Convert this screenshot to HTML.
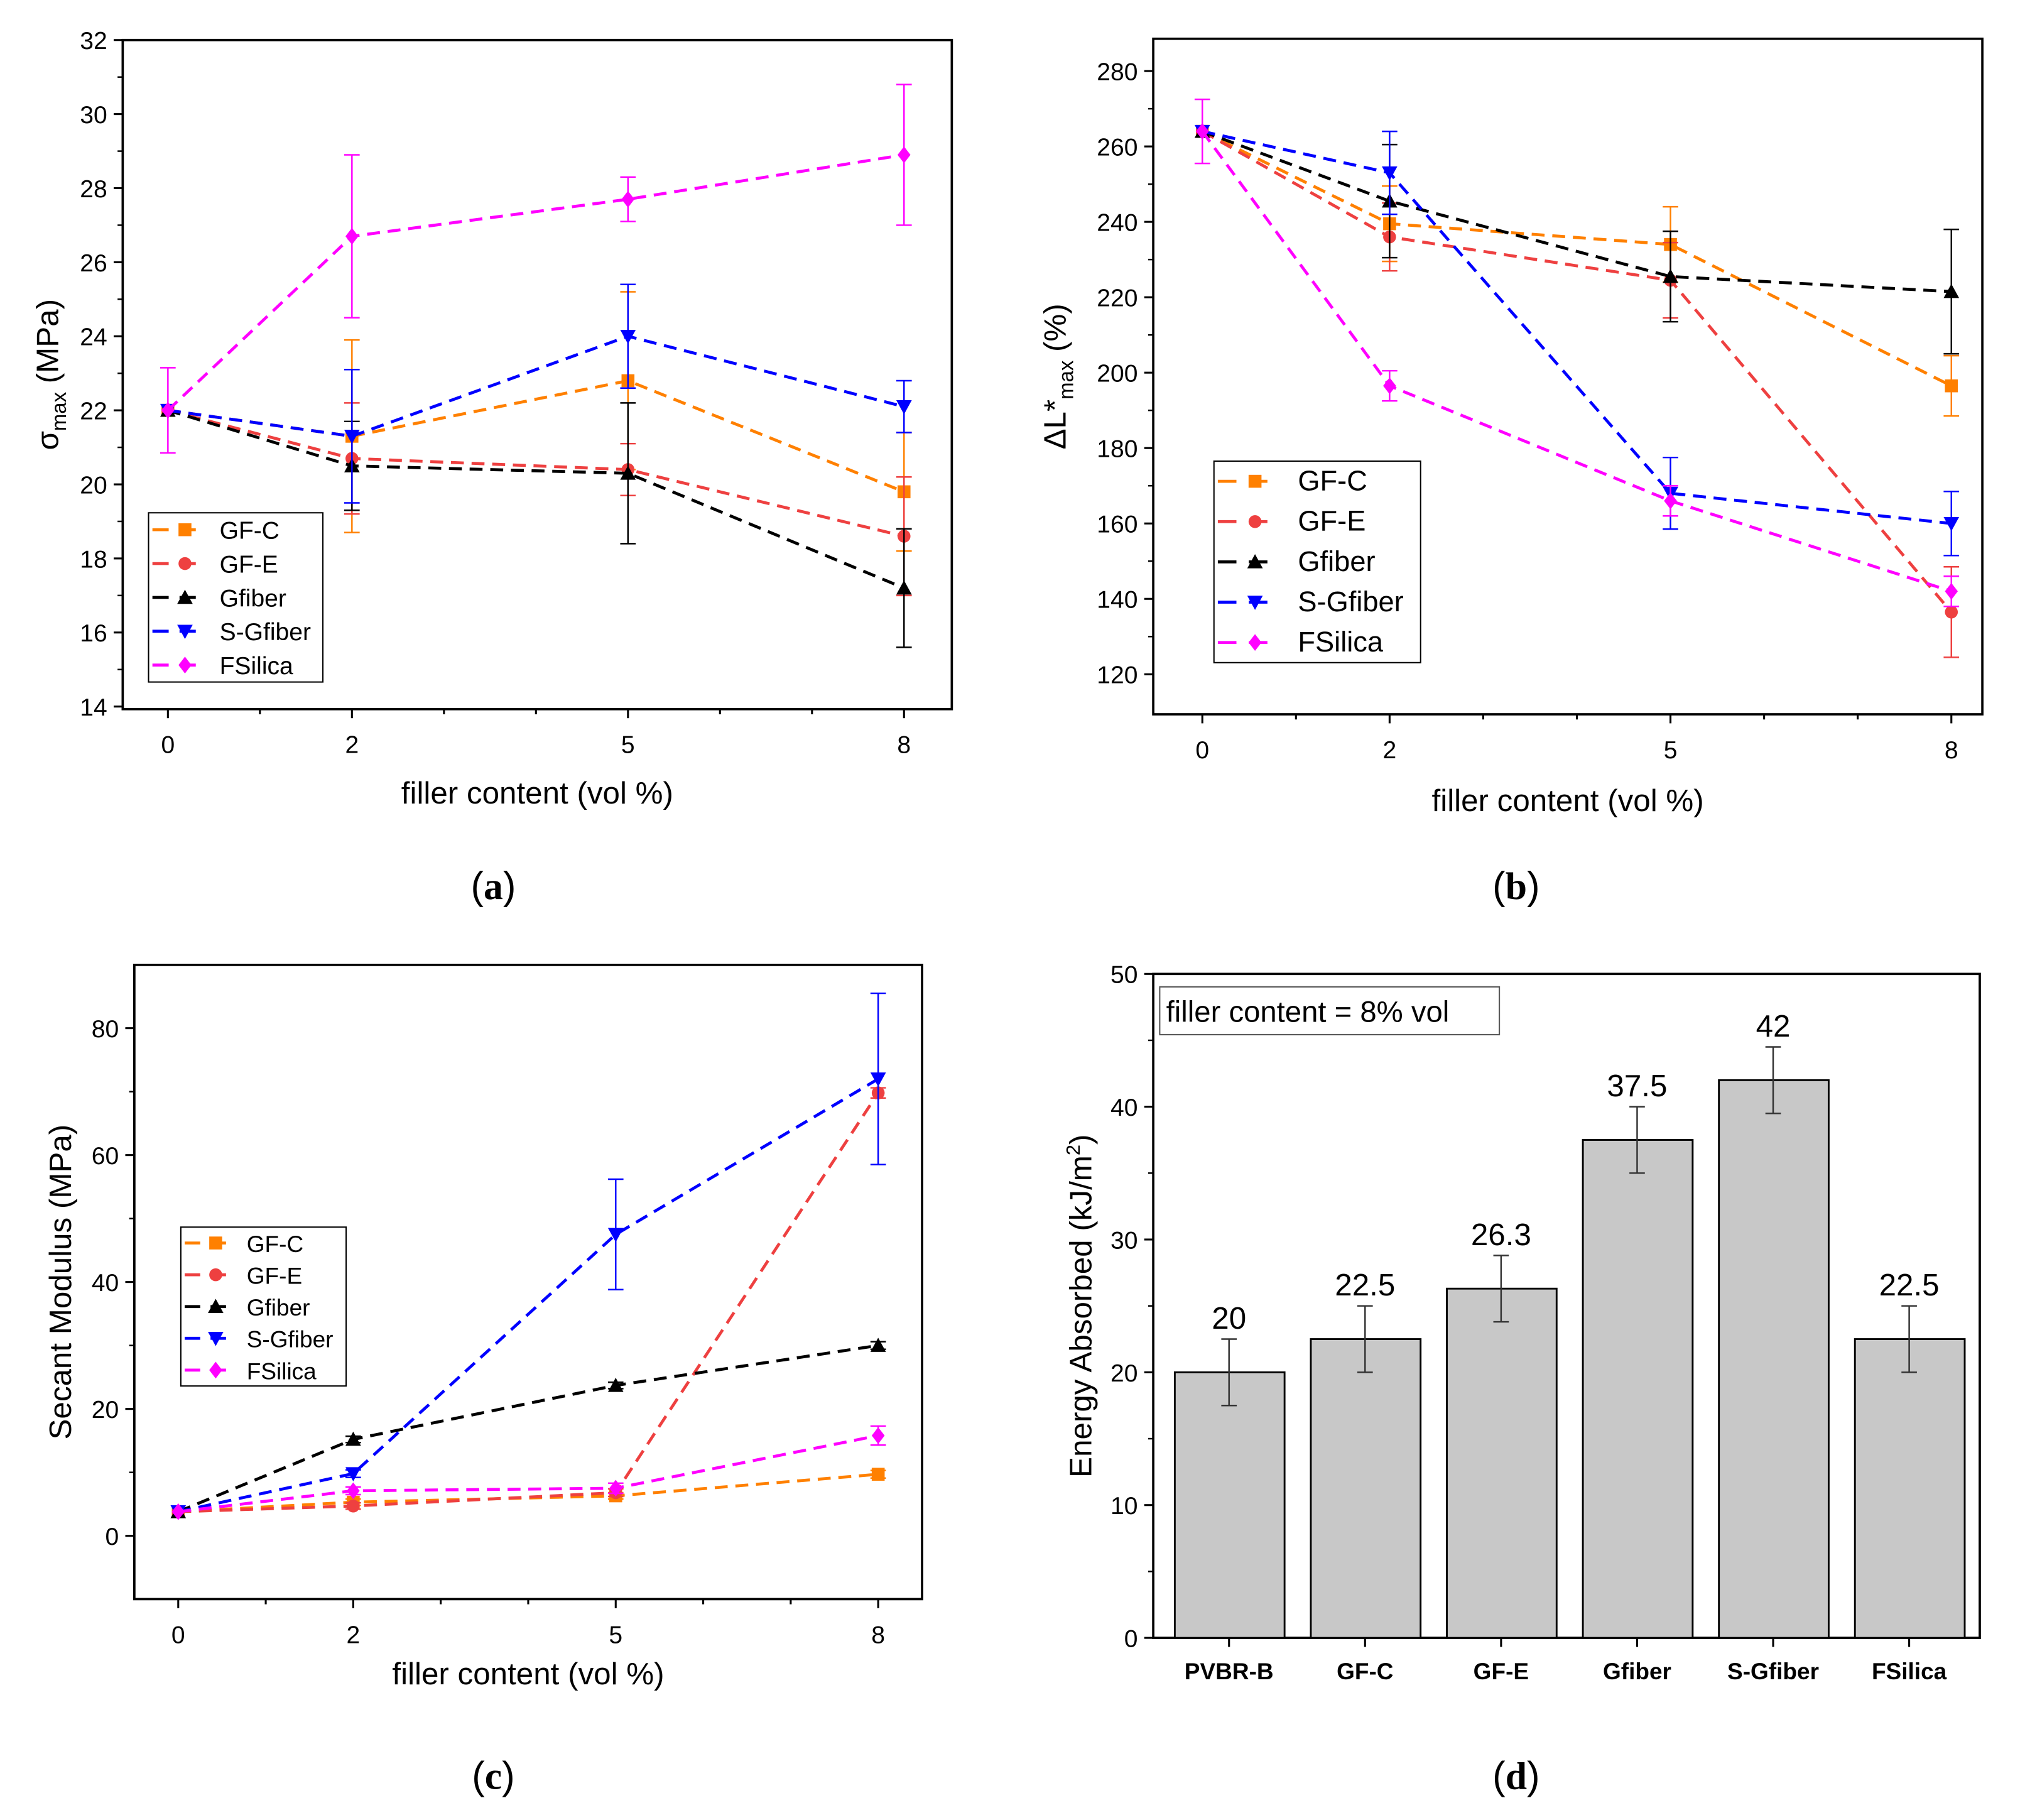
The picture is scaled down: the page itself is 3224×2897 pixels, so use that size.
<!DOCTYPE html>
<html><head><meta charset="utf-8"><style>html,body{margin:0;padding:0;background:#fff}svg{display:block}text{font-family:"Liberation Sans",sans-serif}</style></head>
<body>
<svg id="fig" width="3224" height="2897" viewBox="0 0 1568 1409" xmlns="http://www.w3.org/2000/svg"></svg>
<script>
const seriesNames = ["GF-C","GF-E","Gfiber","S-Gfiber","FSilica"];
const seriesColors = ["#ff8000","#ee4040","#000000","#0000ff","#ff00ff"];
const seriesMarkers = ["square","circle","up","down","diamond"];
const xCats = [0,2,5,8];
// panel a
const aGFC = [22,21.3,22.8,19.8];  const aGFCerr = [0,2.6,2.4,1.6];
const aGFE = [22,20.7,20.4,18.6];  const aGFEerr = [0,1.5,0.7,1.6];
const aGfib = [22,20.5,20.3,17.2]; const aGfiberr = [0,1.2,1.9,1.6];
const aSG = [22,21.3,24,22.1];     const aSGerr = [0,1.8,1.4,0.7];
const aFS = [22,26.7,27.7,28.9];   const aFSerr = [1.15,2.2,0.6,1.9];
const aTicks = [14,16,18,20,22,24,26,28,30,32];
// panel b
const bGFC = [264,239.5,234,196.5]; const bGFCerr = [0,10,10,8];
const bGFE = [264,236,224.5,136.5]; const bGFEerr = [0,9,10,12];
const bGfib = [264,245.5,225.5,221.5]; const bGfiberr = [0,15,12,16.5];
const bSG = [264,253,168,160];     const bSGerr = [0,11,9.5,8.5];
const bFS = [264,196.5,166,142];   const bFSerr = [8.5,4,4,4];
const bTicks = [120,140,160,180,200,220,240,260,280];
// panel c
const cGFC = [3.8,5.3,6.3,9.7];    const cGFCerr = [0,0.5,0.5,0.6];
const cGFE = [3.8,4.7,6.8,69.8];   const cGFEerr = [0,0.5,0.6,0.8];
const cGfib = [3.8,15.2,23.7,30];  const cGfiberr = [0,0.5,0.5,0.6];
const cSG = [3.8,9.8,47.5,72];     const cSGerr = [0,0.6,8.7,13.5];
const cFS = [3.8,7.1,7.5,15.8];    const cFSerr = [0,0.6,0.8,1.5];
const cTicks = [0,20,40,60,80];
// panel d
const dCats = ["PVBR-B","GF-C","GF-E","Gfiber","S-Gfiber","FSilica"];
const dVals = [20,22.5,26.3,37.5,42,22.5];
const dErr = [2.5,2.5,2.5,2.5,2.5,2.5];
const dLabels = ["20","22.5","26.3","37.5","42","22.5"];
const dTicks = [0,10,20,30,40,50];

const NS="http://www.w3.org/2000/svg";
const svg=document.getElementById('fig');
function mk(tag,attrs,parent){const e=document.createElementNS(NS,tag);for(const k in attrs)e.setAttribute(k,attrs[k]);(parent||svg).appendChild(e);return e;}
function txt(s,attrs,parent){const e=mk('text',attrs,parent);e.textContent=s;return e;}

function marker(g,type,x,y,c,s){
  let e;
  if(type==='square') e=mk('rect',{x:x-s,y:y-s,width:2*s,height:2*s,fill:c},g);
  else if(type==='circle') e=mk('circle',{cx:x,cy:y,r:s,fill:c},g);
  else if(type==='up') e=mk('polygon',{points:`${x},${y-s*1.2} ${x-s*1.2},${y+s} ${x+s*1.2},${y+s}`,fill:c},g);
  else if(type==='down') e=mk('polygon',{points:`${x},${y+s*1.2} ${x-s*1.2},${y-s} ${x+s*1.2},${y-s}`,fill:c},g);
  else e=mk('polygon',{points:`${x},${y-s*1.3} ${x+s},${y} ${x},${y+s*1.3} ${x-s},${y}`,fill:c},g);
  return e;
}

function linePanel(P){
  const g=mk('g',{});
  
  
  const sx=v=>P.x0+(v-P.xmin)*(P.x1-P.x0)/(P.xmax-P.xmin);
  const sy=v=>P.yb+(v-P.ylo)*(P.yt-P.yb)/(P.yhi-P.ylo);
  const fr=mk('rect',{x:P.L,y:P.T,width:P.R-P.L,height:P.B-P.T,fill:'none',stroke:'#000','stroke-width':1.8},g);
  
  
  P.ticks.forEach((t,i)=>{
    const y=sy(t);
    mk('line',{x1:P.L-7,x2:P.L,y1:y,y2:y,stroke:'#000','stroke-width':1.5},g);
    if(i<P.ticks.length-1){const ym=sy(t+(P.ticks[1]-P.ticks[0])/2);mk('line',{x1:P.L-4,x2:P.L,y1:ym,y2:ym,stroke:'#000','stroke-width':1.2},g);}
    const tl=txt(String(t),{x:P.L-12,y:y+7,'font-size':19,'text-anchor':'end'},g);
    
    
  });
  for(let v=0;v<=8;v++){
    const x=sx(v);const major=xCats.includes(v);
    mk('line',{x1:x,x2:x,y1:P.B,y2:P.B+(major?7:4),stroke:'#000','stroke-width':1.5},g);
    if(major){const tl=txt(String(v),{x:x,y:P.B+34,'font-size':19,'text-anchor':'middle'},g);
      
      }
  }
  const xt=txt('filler content (vol %)',{x:(P.L+P.R)/2,y:P.xtY,'font-size':24,'text-anchor':'middle'},g);
  
  
  const yt=mk('text',{transform:`translate(${P.ytX},${(P.T+P.B)/2}) rotate(-90)`,'font-size':24,'text-anchor':'middle'},g);
  yt.innerHTML=P.ytitle;
  
  
  P.series.forEach((vals,si)=>{
    const c=seriesColors[si];const errs=P.errs[si];
    const sg=mk('g',{},g);
    
    
    vals.forEach((v,i)=>{ if(errs[i]>0){const x=sx(xCats[i]);
      mk('line',{x1:x,x2:x,y1:sy(v-errs[i]),y2:sy(v+errs[i]),stroke:c,'stroke-width':1.2},sg);
      mk('line',{x1:x-6,x2:x+6,y1:sy(v-errs[i]),y2:sy(v-errs[i]),stroke:c,'stroke-width':1.2},sg);
      mk('line',{x1:x-6,x2:x+6,y1:sy(v+errs[i]),y2:sy(v+errs[i]),stroke:c,'stroke-width':1.2},sg);}});
    const pts=vals.map((v,i)=>sx(xCats[i])+','+sy(v)).join(' ');
    const pl=mk('polyline',{points:pts,fill:'none',stroke:c,'stroke-width':2.3,'stroke-dasharray':'10,6'},sg);
    
    
    vals.forEach((v,i)=>{const m=marker(sg,seriesMarkers[si],sx(xCats[i]),sy(v),c,5);
      
      });
  });
  const lg=mk('g',{},g);
  
  
  mk('rect',{x:P.lg[0],y:P.lg[1],width:P.lg[2],height:P.lg[3],fill:'#fff',stroke:'#000','stroke-width':1},lg);
  const step=P.lg[3]/5;
  seriesNames.forEach((n,i)=>{
    const y=P.lg[1]+step*(i+0.5);const x=P.lg[0]+3;const w=P.lgLine;
    const le=mk('g',{},lg);
    
    
    mk('line',{x1:x,x2:x+w,y1:y,y2:y,stroke:seriesColors[i],'stroke-width':2.3,'stroke-dasharray':w*0.3+','+w*0.2},le);
    marker(le,seriesMarkers[i],x+w*0.6,y,seriesColors[i],5);
    txt(n,{x:x+w+P.lgGap,y:y+7,'font-size':P.lgFont},le);
  });
}

linePanel({name:'panel-a-strength',L:95,R:737,T:31,B:549,x0:130,x1:700,xmin:0,xmax:8,ylo:14,yhi:32,yb:547,yt:31,
  ticks:aTicks,series:[aGFC,aGFE,aGfib,aSG,aFS],errs:[aGFCerr,aGFEerr,aGfiberr,aSGerr,aFSerr],
  ytitle:'σ<tspan font-size="16" dy="6">max</tspan><tspan dy="-6"> (MPa)</tspan>',ytX:45,xtY:622,lg:[115,397,135,131],lgLine:42,lgGap:10,lgFont:19});
linePanel({name:'panel-b-elongation',L:893,R:1535,T:30,B:553,x0:931,x1:1511,xmin:0,xmax:8,ylo:120,yhi:280,yb:522,yt:55,
  ticks:bTicks,series:[bGFC,bGFE,bGfib,bSG,bFS],errs:[bGFCerr,bGFEerr,bGfiberr,bSGerr,bFSerr],
  ytitle:'ΔL*<tspan font-size="16" dy="6">max</tspan><tspan dy="-6"> (%)</tspan>',ytX:825,xtY:628,lg:[940,357,160,156],lgLine:48,lgGap:14,lgFont:22});
linePanel({name:'panel-c-secant-modulus',L:104,R:714,T:747,B:1238,x0:138,x1:680,xmin:0,xmax:8,ylo:0,yhi:80,yb:1189,yt:796,
  ticks:cTicks,series:[cGFC,cGFE,cGfib,cSG,cFS],errs:[cGFCerr,cGFEerr,cGfiberr,cSGerr,cFSerr],
  ytitle:'Secant Modulus (MPa)',ytX:55,xtY:1304,lg:[140,950,128,123],lgLine:40,lgGap:8,lgFont:18});

// panel d
(function(){
  const g=mk('g',{});
  
  
  const L=893,R=1533,T=754,B=1268;
  const sy=v=>B-v*(B-T)/50;
  const bw=(R-L-8)/dCats.length;
  const sx=i=>L+6+bw*(i+0.5);
  mk('rect',{x:L,y:T,width:R-L,height:B-T,fill:'none',stroke:'#000','stroke-width':1.8},g);
  dTicks.forEach((t,i)=>{const y=sy(t);
    mk('line',{x1:L-7,x2:L,y1:y,y2:y,stroke:'#000','stroke-width':1.5},g);
    if(i<dTicks.length-1){mk('line',{x1:L-4,x2:L,y1:sy(t+5),y2:sy(t+5),stroke:'#000','stroke-width':1.2},g);}
    const tl=txt(String(t),{x:L-12,y:y+7,'font-size':19,'text-anchor':'end'},g);
    
    });
  dCats.forEach((c,i)=>{
    const x=sx(i);
    const b=mk('rect',{x:x-42,y:sy(dVals[i]),width:85,height:B-sy(dVals[i]),fill:'#c8c8c8',stroke:'#000','stroke-width':1.4},g);
    
    
    const lo=sy(dVals[i]-dErr[i]),hi=sy(dVals[i]+dErr[i]);
    mk('line',{x1:x,x2:x,y1:lo,y2:hi,stroke:'#333','stroke-width':1.2},g);
    mk('line',{x1:x-6,x2:x+6,y1:lo,y2:lo,stroke:'#333','stroke-width':1.2},g);
    mk('line',{x1:x-6,x2:x+6,y1:hi,y2:hi,stroke:'#333','stroke-width':1.2},g);
    const vl=txt(dLabels[i],{x:x,y:hi-8,'font-size':24,'text-anchor':'middle'},g);
    
    
    mk('line',{x1:x,x2:x,y1:B,y2:B+7,stroke:'#000','stroke-width':1.5},g);
    const cl=txt(c,{x:x,y:B+32,'font-size':18,'font-weight':'bold','text-anchor':'middle'},g);
    
    
  });
  const yt=mk('text',{transform:`translate(845,${(T+B)/2}) rotate(-90)`,'font-size':24,'text-anchor':'middle'},g);
  yt.innerHTML='Energy Absorbed (kJ/m<tspan font-size="15" dy="-9">2</tspan><tspan dy="9">)</tspan>';
  
  
  const bx=mk('rect',{x:898,y:764,width:263,height:37,fill:'#fff',stroke:'#555','stroke-width':1},g);
  
  
  txt('filler content = 8% vol',{x:903,y:791,'font-size':23},g);
})();

[['(a)',382,'caption-a'],['(b)',1174,'caption-b'],['(c)',382,'caption-c'],['(d)',1174,'caption-d']].forEach((c,i)=>{
  const t=mk('text',{x:c[1],y:i<2?696:1385,'font-size':30,'text-anchor':'middle','font-family':'Liberation Serif, serif'});
  t.innerHTML='(<tspan font-weight="bold" font-family="Liberation Serif, serif">'+c[0][1]+'</tspan>)';
  
  
});
</script>
</body></html>
